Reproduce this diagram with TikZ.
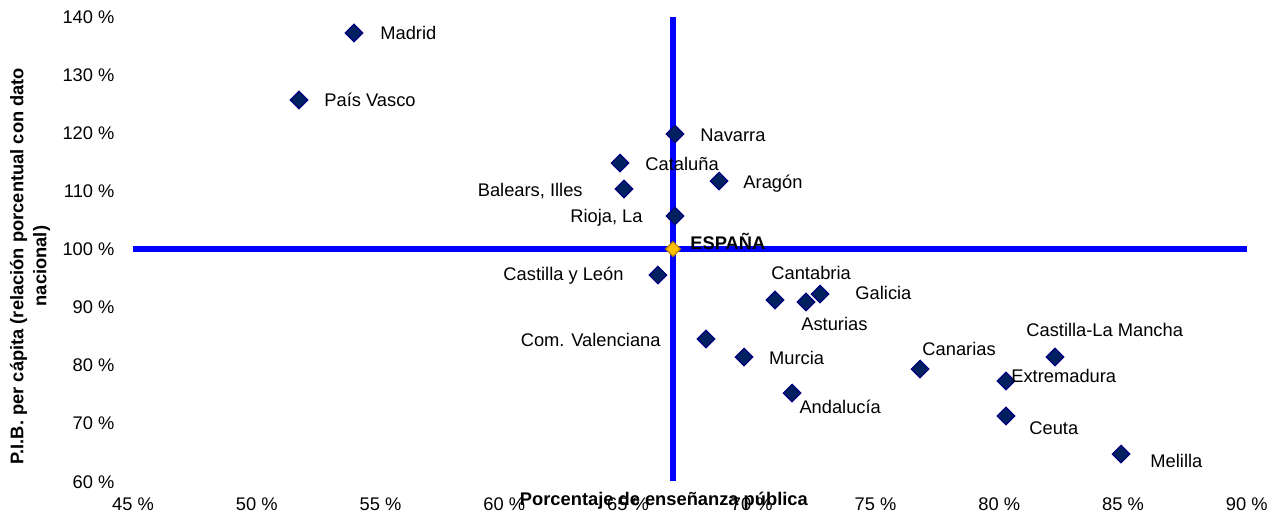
\documentclass[tikz,border=0pt]{standalone}
\usepackage{fontspec}
\setmainfont{Liberation Sans}
\usetikzlibrary{shapes.geometric,positioning}

\definecolor{pointblue}{RGB}{0,32,96}
\definecolor{pointedge}{RGB}{0,0,128}
\definecolor{spaingold}{RGB}{255,192,0}
\definecolor{spainedge}{RGB}{190,130,0}

\begin{document}
\begin{tikzpicture}[x=12.375pt,y=2.905pt,
        every node/.style={font=\fontsize{9.15pt}{11.5pt}\selectfont},
        region/.style={diamond, minimum size=9pt, inner sep=0pt, fill=pointblue, draw=pointedge, line width=0.6pt},
        nation/.style={region, minimum size=7.6pt, fill=spaingold, draw=spainedge},
        lbl/.style={inner sep=0pt, text height=6.6pt, text depth=0pt},
        axisline/.style={blue, line width=2.6pt}]
        \useasboundingbox (39.63,53.87) rectangle (91.14,142.86);

        \foreach \v in {60,70,...,140}
          \node[lbl, anchor=east] (y\v) at (44.27,\v) {\v~\%};
        \foreach \u in {45,50,...,90}
          \node[lbl] (x\u) at (\u,56.11) {\u~\%};

        \coordinate (hl) at (45,100);
        \coordinate (hr) at (90,100);
        \coordinate (vt) at (66.82,140);
        \coordinate (vb) at (66.82,60);
        \draw[axisline] (hl) -- (hr);
        \draw[axisline] (vt) -- (vb);

        \node[region] (mad) at (53.93,137.18) {};
        \node[region] (pv) at (51.71,125.65) {};
        \node[region] (nav) at (66.90,119.79) {};
        \node[region] (cat) at (64.68,114.80) {};
        \node[region] (bal) at (64.84,110.33) {};
        \node[region] (ara) at (68.68,111.70) {};
        \node[region] (rio) at (66.90,105.68) {};
        \node[region] (cyl) at (66.21,95.52) {};
        \node[region] (cant) at (70.94,91.22) {};
        \node[region] (ast) at (72.19,90.88) {};
        \node[region] (gal) at (72.76,92.25) {};
        \node[region] (val) at (68.15,84.51) {};
        \node[region] (mur) at (69.69,81.41) {};
        \node[region] (anda) at (71.63,75.22) {};
        \node[region] (cnr) at (76.80,79.35) {};
        \node[region] (clm) at (82.25,81.41) {};
        \node[region] (ext) at (80.27,77.28) {};
        \node[region] (ceu) at (80.27,71.26) {};
        \node[region] (mel) at (84.92,64.72) {};
        \node[nation] (esp) at (66.82,100) {};

        \node[lbl] (lmad) [right = 8.2pt of mad] {Madrid};
        \node[lbl] (lpv) [right = 7.7pt of pv] {País Vasco};
        \node[lbl] (lnav) [right = 7.7pt of nav, yshift=-0.5pt] {Navarra};
        \node[lbl] (lcat) [right = 7.7pt of cat, yshift=-0.5pt] {Cataluña};
        \node[lbl] (lbal) [left = 15.7pt of bal, yshift=-0.5pt] {Balears, Illes};
        \node[lbl] (lara) [right = 7.2pt of ara, yshift=-0.5pt] {Aragón};
        \node[lbl] (lrio) [left = 11.2pt of rio] {Rioja, La};
        \node[lbl, font=\fontsize{9.15pt}{11.5pt}\selectfont\bfseries] (lesp) [right = 4.4pt of esp, yshift=3.3pt] {ESPAÑA};
        \node[lbl] (lcyl) [left = 12.2pt of cyl, yshift=0.5pt] {Castilla y León};
        \node[lbl] (lcant) [right = -6.8pt of cant, yshift=13.5pt] {Cantabria};
        \node[lbl] (last) [right = -7.3pt of ast, yshift=-11pt] {Asturias};
        \node[lbl] (lgal) [right = 12.7pt of gal, yshift=0.5pt] {Galicia};
        \node[lbl] (lval) [left = 17.7pt of val, yshift=-0.5pt] {Com. Valenciana};
        \node[lbl] (lmur) [right = 7.5pt of mur, yshift=-0.5pt] {Murcia};
        \node[lbl] (landa) [right = -1.3pt of anda, yshift=-7pt] {Andalucía};
        \node[lbl] (lcnr) [right = -3.8pt of cnr, yshift=10pt] {Canarias};
        \node[lbl] (lclm) [right = -19.3pt of clm, yshift=13.5pt] {Castilla-La Mancha};
        \node[lbl] (lext) [right = -2.3pt of ext, yshift=2.5pt] {Extremadura};
        \node[lbl] (lceu) [right = 6.7pt of ceu, yshift=-6pt] {Ceuta};
        \node[lbl] (lmel) [right = 9.7pt of mel, yshift=-3.5pt] {Melilla};

        \node[lbl, font=\fontsize{9.15pt}{11.5pt}\selectfont\bfseries] (xtitle) at (66.45,56.97) {Porcentaje de enseñanza pública};
        \node[rotate=90, align=center, font=\fontsize{9.15pt}{11.5pt}\selectfont\bfseries] (ytitle) at (40.84,97.07) {P.I.B. per cápita (relación porcentual con dato\\nacional)};
      \end{tikzpicture}
\end{document}
